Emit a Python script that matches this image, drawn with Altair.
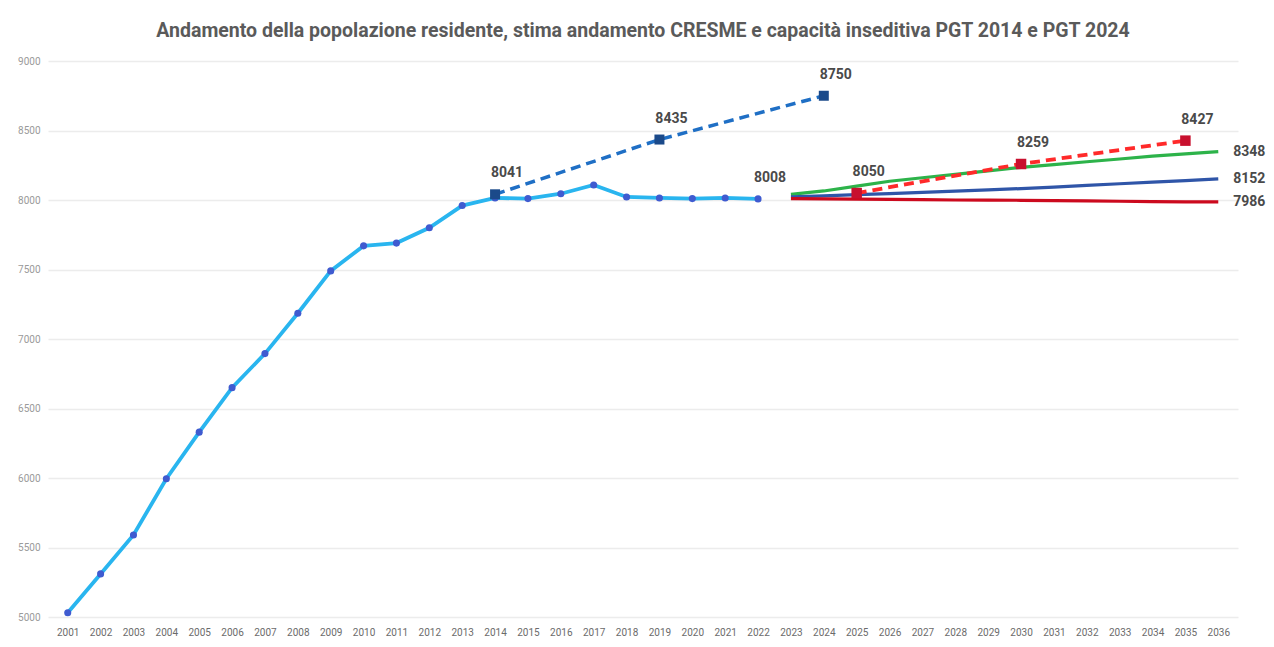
import altair as alt
import pandas as pd

# ---------------- data ----------------
years_all = list(range(2001, 2037))

pop_years = list(range(2001, 2023))
pop_values = [5030, 5310, 5590, 5995, 6330, 6650, 6895, 7185, 7490, 7670, 7690,
              7800, 7960, 8015, 8010, 8045, 8108, 8022, 8015, 8010, 8015, 8008]

pgt2014_years = [2014, 2019, 2024]
pgt2014_values = [8041, 8435, 8750]

pgt2024_years = [2025, 2030, 2035]
pgt2024_values = [8050, 8259, 8427]

cresme_years = list(range(2023, 2037))
cresme_high = [8040, 8065, 8100, 8135, 8160, 8185, 8210, 8235, 8255, 8275, 8295, 8315, 8332, 8348]
cresme_mid = [8022, 8030, 8038, 8046, 8055, 8064, 8073, 8082, 8093, 8105, 8117, 8128, 8140, 8152]
cresme_low = [8010, 8008, 8006, 8004, 8002, 8000, 7999, 7998, 7996, 7994, 7991, 7988, 7987, 7986]

cresme_names = ["Alta", "Media", "Bassa"]
cresme_colors = ["#2db34a", "#2f55a8", "#cc0a1e"]

y_ticks = [5000, 5500, 6000, 6500, 7000, 7500, 8000, 8500, 9000]

title_text = ("Andamento della popolazione residente, stima andamento CRESME "
              "e capacità inseditiva PGT 2014 e PGT 2024")

# ---------------- frames ----------------
pop_df = pd.DataFrame({"year": pop_years, "value": pop_values})
p14_df = pd.DataFrame({"year": pgt2014_years, "value": pgt2014_values})
p24_df = pd.DataFrame({"year": pgt2024_years, "value": pgt2024_values})
cres_df = pd.concat([
    pd.DataFrame({"year": cresme_years, "value": vals, "serie": name})
    for name, vals in zip(cresme_names, [cresme_high, cresme_mid, cresme_low])
])

point_labels = pd.DataFrame({
    "year": pgt2014_years + pgt2024_years + [pop_years[-1]],
    "value": pgt2014_values + pgt2024_values + [pop_values[-1]],
})
point_labels["text"] = point_labels["value"].astype(str)

end_labels = pd.DataFrame({
    "year": [cresme_years[-1]] * 3,
    "value": [cresme_high[-1], cresme_mid[-1], cresme_low[-1]],
})
end_labels["text"] = end_labels["value"].astype(str)

# ---------------- encodings ----------------
x_enc = alt.X("year:O",
              scale=alt.Scale(type="point", domain=years_all, padding=0.6),
              axis=alt.Axis(title=None, labelAngle=0, labelOverlap=False,
                            labelFontSize=10, labelColor="#6b6b6b",
                            labelPadding=10, ticks=False, domain=False,
                            grid=False))
y_enc = alt.Y("value:Q",
              scale=alt.Scale(domain=[5000, 9000], nice=False, zero=False),
              axis=alt.Axis(title=None, values=y_ticks, format="d", labelFontSize=10,
                            labelColor="#9a9a9a", labelPadding=8, ticks=False,
                            domain=False, grid=True, gridColor="#ececec",
                            gridWidth=1.5))

cres_lines = alt.Chart(cres_df).mark_line(strokeWidth=3.2).encode(
    x=x_enc, y=y_enc,
    color=alt.Color("serie:N", scale=alt.Scale(domain=cresme_names, range=cresme_colors),
                    legend=None),
)

pop_line = alt.Chart(pop_df).mark_line(strokeWidth=3.8, color="#29b5ef").encode(x=x_enc, y=y_enc)
pop_pts = alt.Chart(pop_df).mark_circle(size=50, color="#3f5bd0", opacity=1).encode(x=x_enc, y=y_enc)

p14_line = alt.Chart(p14_df).mark_line(strokeWidth=3.5, color="#1f6fc5",
                                       strokeDash=[10, 6]).encode(x=x_enc, y=y_enc)
p14_pts = alt.Chart(p14_df).mark_square(size=100, color="#1b4a8a", opacity=1).encode(x=x_enc, y=y_enc)

p24_line = alt.Chart(p24_df).mark_line(strokeWidth=3.8, color="#ff2a2a",
                                       strokeDash=[10, 6]).encode(x=x_enc, y=y_enc)
p24_pts = alt.Chart(p24_df).mark_square(size=110, color="#c8102e", opacity=1).encode(x=x_enc, y=y_enc)

lbl = alt.Chart(point_labels).mark_text(fontSize=14, fontWeight="bold", color="#4a4a4a",
                                        dx=12, dy=-21).encode(x=x_enc, y=y_enc, text="text:N")
end_lbl = alt.Chart(end_labels).mark_text(fontSize=14, fontWeight="bold", color="#4a4a4a",
                                          align="left", dx=15).encode(x=x_enc, y=y_enc, text="text:N")

chart = alt.layer(
    cres_lines, pop_line, pop_pts, p14_line, p14_pts, p24_line, p24_pts, lbl, end_lbl
).properties(
    width=1190, height=556,
    title=alt.TitleParams(title_text, fontSize=19.5, fontWeight="bold", color="#5a5a5a",
                          anchor="middle", offset=15),
    autosize=alt.AutoSizeParams(type="none"),
    padding={"left": 40, "top": 53, "right": 28, "bottom": 22},
).configure(font="Roboto", background="white").configure_view(
    stroke="transparent", strokeWidth=0
).configure_axis(domain=False)

chart.save("out.html", embed_options={"renderer": "svg", "actions": False})
